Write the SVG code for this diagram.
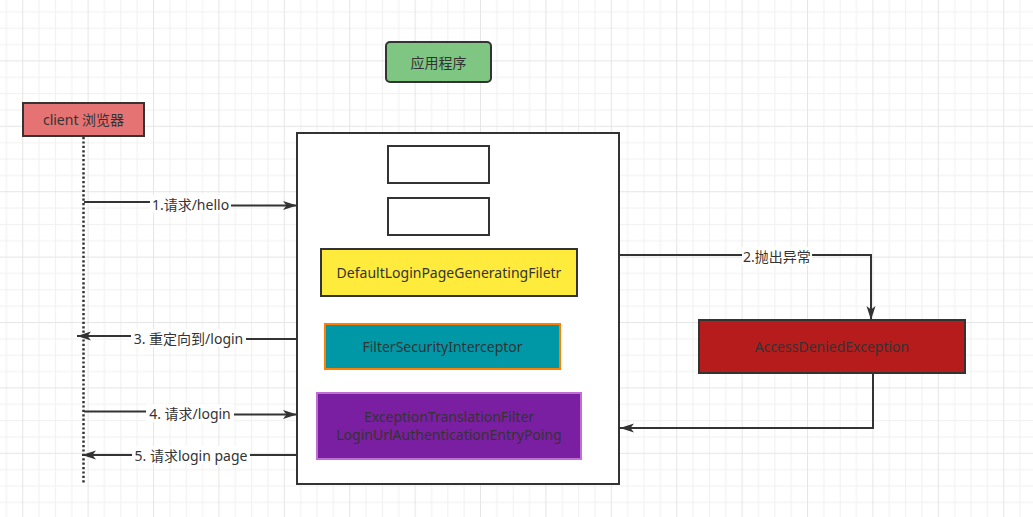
<svg xmlns="http://www.w3.org/2000/svg" width="1033" height="517" viewBox="0 0 1033 517">
<defs>
<pattern id="grid" patternUnits="userSpaceOnUse" x="22.2" y="60.4" width="65.4" height="65.4">
<rect x="0" y="0" width="65.4" height="65.4" fill="#ffffff"/>
<g fill="#f1f1f1">
<rect x="16.35" y="0" width="1" height="65.4"/>
<rect x="32.7" y="0" width="1" height="65.4"/>
<rect x="49.05" y="0" width="1" height="65.4"/>
<rect x="0" y="16.35" width="65.4" height="1"/>
<rect x="0" y="32.7" width="65.4" height="1"/>
<rect x="0" y="49.05" width="65.4" height="1"/>
</g>
<g fill="#e6e6e6">
<rect x="0" y="0" width="1" height="65.4"/>
<rect x="0" y="0" width="65.4" height="1"/>
</g>
</pattern>
<marker id="arr" markerUnits="userSpaceOnUse" markerWidth="16" markerHeight="10" refX="14" refY="5" orient="auto">
<path d="M0,0.5 L14,5 L0,9.5 L3.5,5 z" fill="#333333"/>
</marker>
</defs>
<style>
text{font-family:"Noto Sans","Noto Sans CJK SC",sans-serif;font-size:14px;fill:#333333;text-anchor:middle;dominant-baseline:central}
.box{stroke:#333333;stroke-width:2}
.edge{fill:none;stroke:#333333;stroke-width:2}
.lbl{fill:#ffffff}
</style>
<rect width="1033" height="517" fill="url(#grid)"/>

<g id="client">
<rect class="box" x="23" y="103" width="121" height="33" fill="#e57373"/>
<text x="83.5" y="119">client 浏览器</text>
</g>
<g id="lifeline">
<line x1="83.5" y1="137" x2="83.5" y2="483" stroke="#333333" stroke-width="2.5" stroke-dasharray="2.2 2.2"/>
</g>

<g id="app-title">
<rect class="box" x="386" y="42" width="105" height="40" rx="4" fill="#7fc683"/>
<text x="438.5" y="62">应用程序</text>
</g>

<g id="app-container">
<rect class="box" x="297" y="133" width="322" height="351" fill="#ffffff"/>
</g>
<g id="empty1">
<rect class="box" x="388" y="146" width="101" height="37" fill="#ffffff"/>
</g>
<g id="empty2">
<rect class="box" x="388" y="198" width="101" height="37" fill="#ffffff"/>
</g>
<g id="default-login">
<rect class="box" x="321" y="249" width="256" height="47" fill="#ffeb3b"/>
<text x="449" y="272">DefaultLoginPageGeneratingFiletr</text>
</g>
<g id="filter-security">
<rect x="325" y="324" width="235" height="45" fill="#0097a7" stroke="#ff8000" stroke-width="2"/>
<text x="442.5" y="346.5">FilterSecurityInterceptor</text>
</g>
<g id="exception-translation">
<rect x="317" y="393" width="264" height="66" fill="#7b1fa2" stroke="#c06ed6" stroke-width="2"/>
<text x="449" y="416.5">ExceptionTranslationFilter</text>
<text x="449" y="434.5">LoginUrlAuthenticationEntryPoing</text>
</g>
<g id="access-denied">
<rect class="box" x="699" y="320" width="266" height="53" fill="#b71c1c"/>
<text x="832" y="346.5">AccessDeniedException</text>
</g>

<g id="connectors">
<path class="edge" d="M84,202 H190 V205.5 H297" marker-end="url(#arr)"/>
<rect class="lbl" x="150" y="195" width="81" height="18"/>
<text x="190.5" y="204">1.请求/hello</text>

<path class="edge" d="M619,255 H871 V320" marker-end="url(#arr)"/>
<rect class="lbl" x="742" y="247" width="70" height="18"/>
<text x="777" y="256">2.抛出异常</text>

<path class="edge" d="M873,373 V428 H620" marker-end="url(#arr)"/>

<path class="edge" d="M297,339 H190 V336 H77" marker-end="url(#arr)"/>
<rect class="lbl" x="131" y="329" width="115" height="18"/>
<text x="188.5" y="338">3. 重定向到/login</text>

<path class="edge" d="M84,411.5 H190 V414.5 H297" marker-end="url(#arr)"/>
<rect class="lbl" x="146" y="404" width="88" height="18"/>
<text x="190" y="413">4. 请求/login</text>

<path class="edge" d="M297,455 H82" marker-end="url(#arr)"/>
<rect class="lbl" x="132" y="446" width="118" height="18"/>
<text x="191" y="455">5. 请求login page</text>
</g>
</svg>
